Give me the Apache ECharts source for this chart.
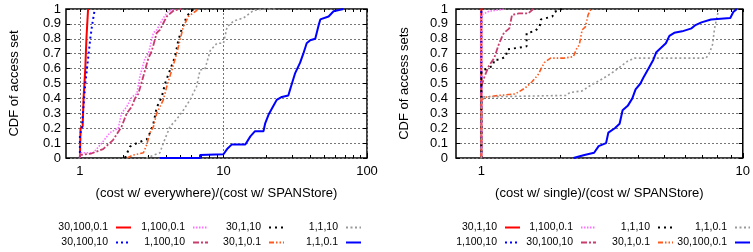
<!DOCTYPE html>
<html>
<head>
<meta charset="utf-8">
<script src="https://cdn.jsdelivr.net/npm/echarts@6/dist/echarts.min.js"></script>
<style>
  html, body { margin: 0; padding: 0; background: #fff; }
  #chart { width: 753px; height: 252px; }
</style>
</head>
<body>
<div id="chart"></div>
<script>
// tick labels
const xTicksLeft = [1, 10, 100];
const xTicksRight = [1, 10];
const xMinorLeft = [1, 2, 3, 4, 5, 6, 7, 8, 9, 10, 20, 30, 40, 50, 60, 70, 80, 90, 100];
const xMinorRight = [1, 2, 3, 4, 5, 6, 7, 8, 9, 10];

// left panel: (cost w/ everywhere)/(cost w/ SPANStore), [ratio, cdf]
const ev_30_100_01 = [[1, 0], [1.01, 0.2], [1.045, 0.21], [1.06, 0.4], [1.09, 0.6], [1.11, 0.8], [1.14, 1]];
const ev_30_100_10 = [[1, 0], [1, 0.15], [1.03, 0.2], [1.05, 0.3], [1.07, 0.4], [1.09, 0.5], [1.12, 0.6], [1.15, 0.7], [1.18, 0.8], [1.22, 0.9], [1.27, 1]];
const ev_1_100_01 = [[1, 0], [1, 0.035], [1.24, 0.035], [1.42, 0.1], [1.62, 0.17], [1.85, 0.2], [1.95, 0.3], [2.12, 0.345], [2.3, 0.41], [2.49, 0.43], [2.62, 0.55], [2.84, 0.67], [3.0, 0.7], [3.25, 0.84], [3.43, 0.86], [3.81, 0.94], [4.13, 0.985], [4.6, 1]];
const ev_1_100_10 = [[1, 0], [1, 0.02], [1.2, 0.03], [1.45, 0.06], [1.7, 0.12], [1.95, 0.21], [2.12, 0.3], [2.3, 0.345], [2.42, 0.4], [2.55, 0.43], [2.77, 0.55], [3.0, 0.67], [3.16, 0.715], [3.43, 0.84], [3.61, 0.86], [4.03, 0.95], [4.5, 0.99], [5.1, 1]];
const ev_30_1_10 = [[2.06, 0], [2.23, 0.076], [2.49, 0.1], [2.92, 0.125], [3.08, 0.17], [3.25, 0.23], [3.43, 0.34], [3.72, 0.41], [3.92, 0.5], [4.24, 0.59], [4.6, 0.68], [4.85, 0.79], [5.1, 0.86], [5.55, 0.95], [6.0, 0.99], [6.35, 1]];
const ev_30_1_01 = [[2.13, 0], [2.35, 0.02], [2.77, 0.035], [2.92, 0.09], [3.08, 0.17], [3.25, 0.21], [3.43, 0.3], [3.81, 0.39], [4.03, 0.48], [4.37, 0.59], [4.72, 0.7], [4.98, 0.79], [5.25, 0.88], [5.7, 0.95], [6.5, 0.99], [6.6, 1]];
const ev_1_1_10 = [[2.9, 0], [3.61, 0.035], [3.81, 0.1], [4.24, 0.21], [4.72, 0.26], [5.25, 0.32], [5.85, 0.39], [6.5, 0.48], [6.87, 0.59], [7.45, 0.6], [8.08, 0.72], [9.0, 0.77], [10, 0.77], [10.6, 0.88], [11.8, 0.92], [13.8, 0.94], [16.2, 0.99], [19, 1], [23, 1]];
const ev_1_1_01 = [[3.6, 0], [6.87, 0], [6.87, 0.02], [10, 0.025], [10.6, 0.06], [11.4, 0.09], [14.2, 0.09], [15.4, 0.145], [16.6, 0.18], [19, 0.18], [19.5, 0.23], [20.6, 0.29], [22.3, 0.35], [23.5, 0.39], [25.5, 0.41], [28.3, 0.42], [30, 0.5], [31.6, 0.57], [34.2, 0.64], [36, 0.7], [38, 0.77], [40.2, 0.79], [43.6, 0.8], [46, 0.89], [47.3, 0.93], [54, 0.95], [58.5, 0.985], [68.6, 1]];

// right panel: (cost w/ single)/(cost w/ SPANStore)
const sg_30_1_10 = [[1, 0], [1, 1], [1.01, 1]];
const sg_1_100_10 = [[1, 0], [1, 0.99], [1.01, 1]];
const sg_1_100_01 = [[1, 0], [1, 0.96], [1.07, 0.985], [1.24, 1]];
const sg_30_100_10 = [[1, 0], [1, 0.48], [1.03, 0.55], [1.07, 0.62], [1.12, 0.67], [1.17, 0.77], [1.22, 0.84], [1.28, 0.87], [1.31, 0.96], [1.39, 0.97], [1.51, 0.97], [1.58, 1]];
const sg_1_1_10 = [[1, 0], [1, 0.58], [1.05, 0.6], [1.11, 0.62], [1.12, 0.66], [1.17, 0.66], [1.24, 0.68], [1.26, 0.73], [1.39, 0.74], [1.49, 0.75], [1.49, 0.84], [1.6, 0.85], [1.67, 0.88], [1.69, 0.93], [1.87, 0.95], [1.9, 0.98], [2.03, 1]];
const sg_30_1_01 = [[1, 0], [1, 0.39], [1.05, 0.41], [1.17, 0.42], [1.35, 0.43], [1.47, 0.47], [1.56, 0.51], [1.65, 0.56], [1.74, 0.64], [1.84, 0.67], [2.06, 0.67], [2.25, 0.68], [2.31, 0.73], [2.37, 0.76], [2.43, 0.86], [2.5, 0.88], [2.56, 0.96], [2.63, 1]];
const sg_1_1_01 = [[1, 0], [1, 0.41], [2.12, 0.42], [2.18, 0.44], [2.43, 0.45], [2.63, 0.49], [2.9, 0.53], [3.15, 0.57], [3.33, 0.6], [3.63, 0.65], [3.85, 0.67], [7.23, 0.67], [7.44, 0.7], [7.66, 0.76], [7.8, 0.87], [8.0, 0.96], [8.1, 1]];
const sg_30_100_01 = [[2.25, 0], [2.48, 0.02], [2.7, 0.035], [2.81, 0.08], [3.0, 0.1], [3.06, 0.17], [3.24, 0.2], [3.38, 0.23], [3.47, 0.32], [3.63, 0.35], [3.78, 0.4], [3.89, 0.46], [4.06, 0.5], [4.17, 0.54], [4.36, 0.6], [4.55, 0.66], [4.67, 0.71], [4.87, 0.74], [5.08, 0.77], [5.24, 0.82], [5.47, 0.84], [5.86, 0.85], [6.37, 0.87], [6.56, 0.89], [6.95, 0.91], [7.56, 0.93], [8.96, 0.94], [9.2, 0.98], [9.5, 1]];

const FONT = 'Liberation Sans';

// gnuplot-like line styles, by slot
const styles = [
  { color: '#ff0000', width: 2, type: 'solid' },
  { color: '#0000ff', width: 2, type: [2, 3] },
  { color: '#ff70ff', width: 1.6, type: [1.5, 1.5] },
  { color: '#c83c6e', width: 1.8, type: [6, 2, 2, 2] },
  { color: '#000000', width: 2, type: [2, 4] },
  { color: '#ff5a1e', width: 1.6, type: [5, 2, 1.5, 2, 1.5, 2] },
  { color: '#999999', width: 1.6, type: [2, 2.5] },
  { color: '#0000ff', width: 2, type: 'solid' }
];

const leftSeries = [
  ['30,100,0.1', ev_30_100_01], ['30,100,10', ev_30_100_10],
  ['1,100,0.1', ev_1_100_01], ['1,100,10', ev_1_100_10],
  ['30,1,10', ev_30_1_10], ['30,1,0.1', ev_30_1_01],
  ['1,1,10', ev_1_1_10], ['1,1,0.1', ev_1_1_01]
];
// prefix "r:" keeps right-panel names apart from the left ones
const rightSeries = [
  ['r:30,1,10', sg_30_1_10], ['r:1,100,10', sg_1_100_10],
  ['r:1,100,0.1', sg_1_100_01], ['r:30,100,10', sg_30_100_10],
  ['r:1,1,10', sg_1_1_10], ['r:30,1,0.1', sg_30_1_01],
  ['r:1,1,0.1', sg_1_1_01], ['r:30,100,0.1', sg_30_100_01]
];

function makeSeries(list, xIdx, yIdx) {
  return list.map(([name, data], i) => ({
    name: name,
    type: 'line',
    xAxisIndex: xIdx,
    yAxisIndex: yIdx,
    data: data,
    symbol: 'none',
    z: 3 + i,
    lineStyle: styles[i],
    itemStyle: { color: styles[i].color },
    animation: false
  }));
}

function mainX(gridIndex, max, ticks, name) {
  return {
    type: 'log', gridIndex: gridIndex, min: 0.8, max: max, position: 'bottom',
    name: name, nameLocation: 'middle', nameGap: 29,
    nameTextStyle: { fontSize: 13, color: '#000', fontFamily: FONT },
    axisLine: { show: false },
    axisTick: { inside: true, length: 5, customValues: ticks, lineStyle: { color: '#000' } },
    axisLabel: { customValues: ticks, fontSize: 13, color: '#000', margin: 7, fontFamily: FONT },
    splitLine: { show: true, lineStyle: { color: '#777', type: [2, 2], width: 1 } }
  };
}
function minorX(gridIndex, max, ticks, pos) {
  return {
    type: 'log', gridIndex: gridIndex, min: 0.8, max: max, position: pos,
    axisLine: { show: false },
    axisTick: { inside: true, length: 3, customValues: ticks, lineStyle: { color: '#000' } },
    axisLabel: { show: false },
    splitLine: { show: false }
  };
}
function mainY(gridIndex, name, margin) {
  return {
    type: 'value', gridIndex: gridIndex, min: 0, max: 1, interval: 0.1,
    name: name, nameLocation: 'middle', nameGap: 45,
    nameTextStyle: { fontSize: 13, color: '#000', fontFamily: FONT },
    axisLine: { show: false },
    axisTick: { inside: true, length: 4, lineStyle: { color: '#000' } },
    axisLabel: { fontSize: 13, color: '#000', margin: margin, fontFamily: FONT },
    splitLine: { show: true, lineStyle: { color: '#777', type: [2, 2], width: 1 } }
  };
}
function sideY(gridIndex) {
  return {
    type: 'value', gridIndex: gridIndex, min: 0, max: 1, interval: 0.1, position: 'right',
    axisLine: { show: false },
    axisTick: { inside: true, length: 4, lineStyle: { color: '#000' } },
    axisLabel: { show: false },
    splitLine: { show: false }
  };
}

function legendCol(names, right) {
  return {
    orient: 'vertical', align: 'right', right: right, top: 222,
    padding: 0, itemGap: 4, itemWidth: 15, itemHeight: 10,
    selectedMode: false,
    data: names,
    formatter: n => n.replace(/^r:/, ''),
    // hide the marker so only the line sample shows
    itemStyle: { color: 'transparent', borderWidth: 0, opacity: 0 },
    textStyle: { fontSize: 10.5, color: '#000', fontFamily: FONT, padding: [0, 3, 0, 0] }
  };
}

const chart = echarts.init(document.getElementById('chart'));
chart.setOption({
  animation: false,
  textStyle: { fontFamily: FONT },
  grid: [
    { left: 66, top: 9, width: 301, height: 149, show: true, borderColor: '#000', borderWidth: 1.5, backgroundColor: 'transparent' },
    { left: 456, top: 9, width: 298, height: 149, show: true, borderColor: '#000', borderWidth: 1.5, backgroundColor: 'transparent' }
  ],
  xAxis: [
    mainX(0, 100, xTicksLeft, '(cost w/ everywhere)/(cost w/ SPANStore)'),
    minorX(0, 100, xMinorLeft, 'bottom'),
    minorX(0, 100, xMinorLeft, 'top'),
    mainX(1, 10, xTicksRight, '(cost w/ single)/(cost w/ SPANStore)'),
    minorX(1, 10, xMinorRight, 'bottom'),
    minorX(1, 10, xMinorRight, 'top')
  ],
  yAxis: [
    mainY(0, 'CDF of access set', 5),
    sideY(0),
    mainY(1, 'CDF of access sets', 8),
    sideY(1)
  ],
  legend: [
    legendCol(['30,100,0.1', '30,100,10'], 621),
    legendCol(['1,100,0.1', '1,100,10'], 544),
    legendCol(['30,1,10', '30,1,0.1'], 468),
    legendCol(['1,1,10', '1,1,0.1'], 391),
    legendCol(['r:30,1,10', 'r:1,100,10'], 232),
    legendCol(['r:1,100,0.1', 'r:30,100,10'], 156),
    legendCol(['r:1,1,10', 'r:30,1,0.1'], 79),
    legendCol(['r:1,1,0.1', 'r:30,100,0.1'], 2)
  ],
  series: [].concat(makeSeries(leftSeries, 0, 0), makeSeries(rightSeries, 3, 2))
});
</script>
</body>
</html>
